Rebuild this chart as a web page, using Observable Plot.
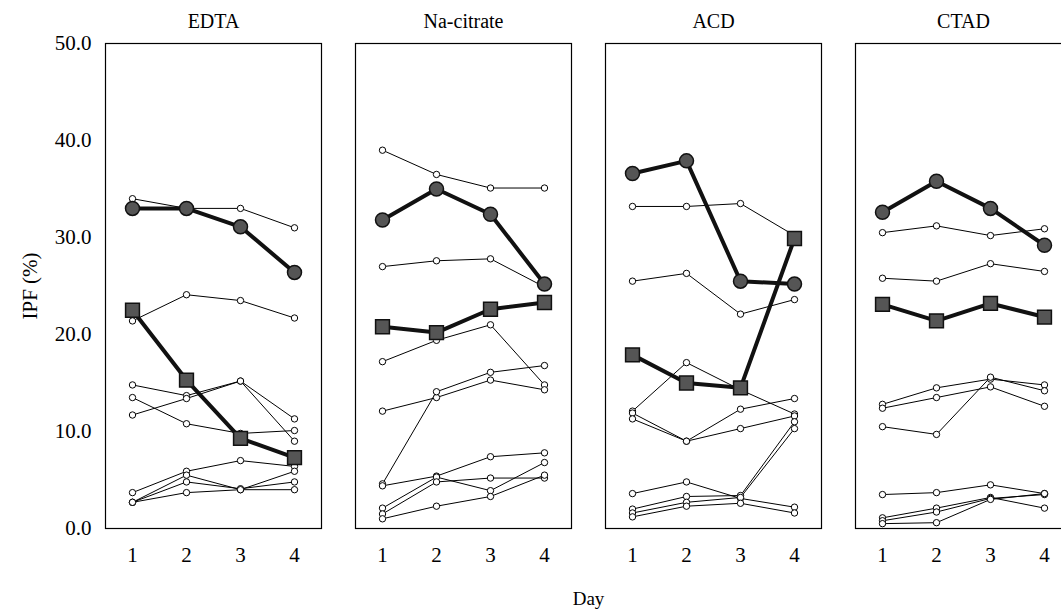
<!DOCTYPE html>
<html>
<head>
<meta charset="utf-8">
<script src="https://cdn.jsdelivr.net/npm/d3@7"></script>
<script src="https://cdn.jsdelivr.net/npm/@observablehq/plot@0.6"></script>
<style>
  html, body { margin: 0; padding: 0; background: white; overflow: hidden; }
  #chart svg { overflow: visible; max-width: none !important; }
  #chart svg, #chart svg text { font-family: "Liberation Serif", "DejaVu Serif", serif !important; }
</style>
</head>
<body>
<div id="chart"></div>
<script>
// ---- data ----
const panels = ["EDTA", "Na-citrate", "ACD", "CTAD"];
const days = [1, 2, 3, 4];
const yTicks = [0, 10, 20, 30, 40, 50];

// thin (open circle) series, values for days 1..4
const edtaThin = [
  [34.0, 33.0, 33.0, 31.0],
  [21.4, 24.1, 23.5, 21.7],
  [14.8, 13.7, 15.2, 11.3],
  [13.5, 10.8, 9.8, 10.1],
  [11.7, 13.4, 15.2, 9.0],
  [3.7, 5.9, 7.0, 6.4],
  [2.7, 5.5, 4.0, 5.9],
  [2.7, 4.8, 4.1, 4.8],
  [2.7, 3.7, 4.0, 4.0]
];
const naThin = [
  [39.0, 36.5, 35.1, 35.1],
  [27.0, 27.6, 27.8, 24.9],
  [17.2, 19.4, 21.0, 14.8],
  [12.1, 13.5, 15.3, 14.3],
  [4.6, 14.1, 16.1, 16.8],
  [4.4, 5.4, 7.4, 7.8],
  [2.1, 5.3, 3.9, 6.8],
  [1.5, 4.8, 5.2, 5.2],
  [1.0, 2.3, 3.3, 5.5]
];
const acdThin = [
  [33.2, 33.2, 33.5, 30.2],
  [25.5, 26.3, 22.1, 23.6],
  [12.1, 17.1, 14.3, 11.8],
  [11.9, 9.0, 12.3, 13.4],
  [11.3, 9.0, 10.3, 11.6],
  [3.6, 4.8, 3.1, 2.2],
  [2.0, 3.3, 3.4, 11.0],
  [1.6, 2.7, 3.2, 10.3],
  [1.2, 2.3, 2.6, 1.6]
];
const ctadThin = [
  [30.5, 31.2, 30.2, 30.9],
  [25.8, 25.5, 27.3, 26.5],
  [12.8, 14.5, 15.4, 14.8],
  [12.4, 13.5, 14.6, 12.6],
  [10.5, 9.7, 15.6, 14.2],
  [3.5, 3.7, 4.5, 3.6],
  [1.1, 2.1, 3.2, 2.1],
  [0.8, 1.7, 3.1, 3.5],
  [0.5, 0.6, 3.0, 3.6]
];
// highlighted series (thick line, filled circle), per panel
const circleEDTA = [33.0, 33.0, 31.1, 26.4];
const circleNa   = [31.8, 35.0, 32.4, 25.2];
const circleACD  = [36.6, 37.9, 25.5, 25.2];
const circleCTAD = [32.6, 35.8, 33.0, 29.2];
// highlighted series (thick line, filled square), per panel
const squareEDTA = [22.5, 15.3, 9.3, 7.3];
const squareNa   = [20.8, 20.2, 22.6, 23.3];
const squareACD  = [17.9, 15.0, 14.5, 29.9];
const squareCTAD = [23.1, 21.4, 23.2, 21.8];

// ---- build tables ----
const thinByPanel = [edtaThin, naThin, acdThin, ctadThin];
const circleByPanel = [circleEDTA, circleNa, circleACD, circleCTAD];
const squareByPanel = [squareEDTA, squareNa, squareACD, squareCTAD];

function rows(seriesList, tag) {
  const out = [];
  seriesList.forEach((list, pi) => {
    list.forEach((vals, si) => {
      vals.forEach((v, di) => {
        out.push({panel: panels[pi], series: `${tag}-${pi}-${si}`, day: days[di], value: v});
      });
    });
  });
  return out;
}
const thin = rows(thinByPanel, "t");
const circ = rows(circleByPanel.map(a => [a]), "c");
const sq = rows(squareByPanel.map(a => [a]), "s");

const chart = Plot.plot({
  width: 1071,
  height: 610,
  marginLeft: 105,
  marginRight: 0,
  marginTop: 43,
  marginBottom: 82,
  style: {fontFamily: "'Liberation Serif', serif", fontSize: "19px", color: "black", background: "white", maxWidth: "none"},
  fx: {domain: panels, paddingInner: 0.136, paddingOuter: 0},
  x: {domain: [0.5, 4.5]},
  y: {domain: [0, 50]},
  marks: [
    Plot.frame({stroke: "black", strokeWidth: 1.2}),
    Plot.line(thin, {fx: "panel", x: "day", y: "value", z: "series", stroke: "black", strokeWidth: 1}),
    Plot.dot(thin, {fx: "panel", x: "day", y: "value", r: 3.2, fill: "white", stroke: "black", strokeWidth: 1}),
    Plot.line(circ, {fx: "panel", x: "day", y: "value", z: "series", stroke: "#111", strokeWidth: 4}),
    Plot.line(sq, {fx: "panel", x: "day", y: "value", z: "series", stroke: "#111", strokeWidth: 4}),
    Plot.dot(circ, {fx: "panel", x: "day", y: "value", r: 7, fill: "#555", stroke: "#111", strokeWidth: 1.5}),
    Plot.dot(sq, {fx: "panel", x: "day", y: "value", symbol: "square", r: 7.8, fill: "#555", stroke: "#111", strokeWidth: 1.5}),
    Plot.axisY({ticks: yTicks, tickFormat: d3.format(".1f"), tickSize: 0, tickPadding: 14, fontSize: 21,
      label: "IPF (%)", labelAnchor: "center", labelOffset: 83, labelArrow: "none"}),
    Plot.axisX({ticks: days, tickFormat: d3.format("d"), tickSize: 0, tickPadding: 19, fontSize: 21, label: null}),
    Plot.axisFx({anchor: "top", tickSize: 0, tickPadding: 16, fontSize: 20, label: null}),
    Plot.axisFx({anchor: "bottom", tickFormat: () => "", tickSize: 0, fontSize: 19,
      label: "Day", labelAnchor: "center", labelOffset: 76, labelArrow: "none"})
  ]
});
document.getElementById("chart").appendChild(chart);
</script>
</body>
</html>
